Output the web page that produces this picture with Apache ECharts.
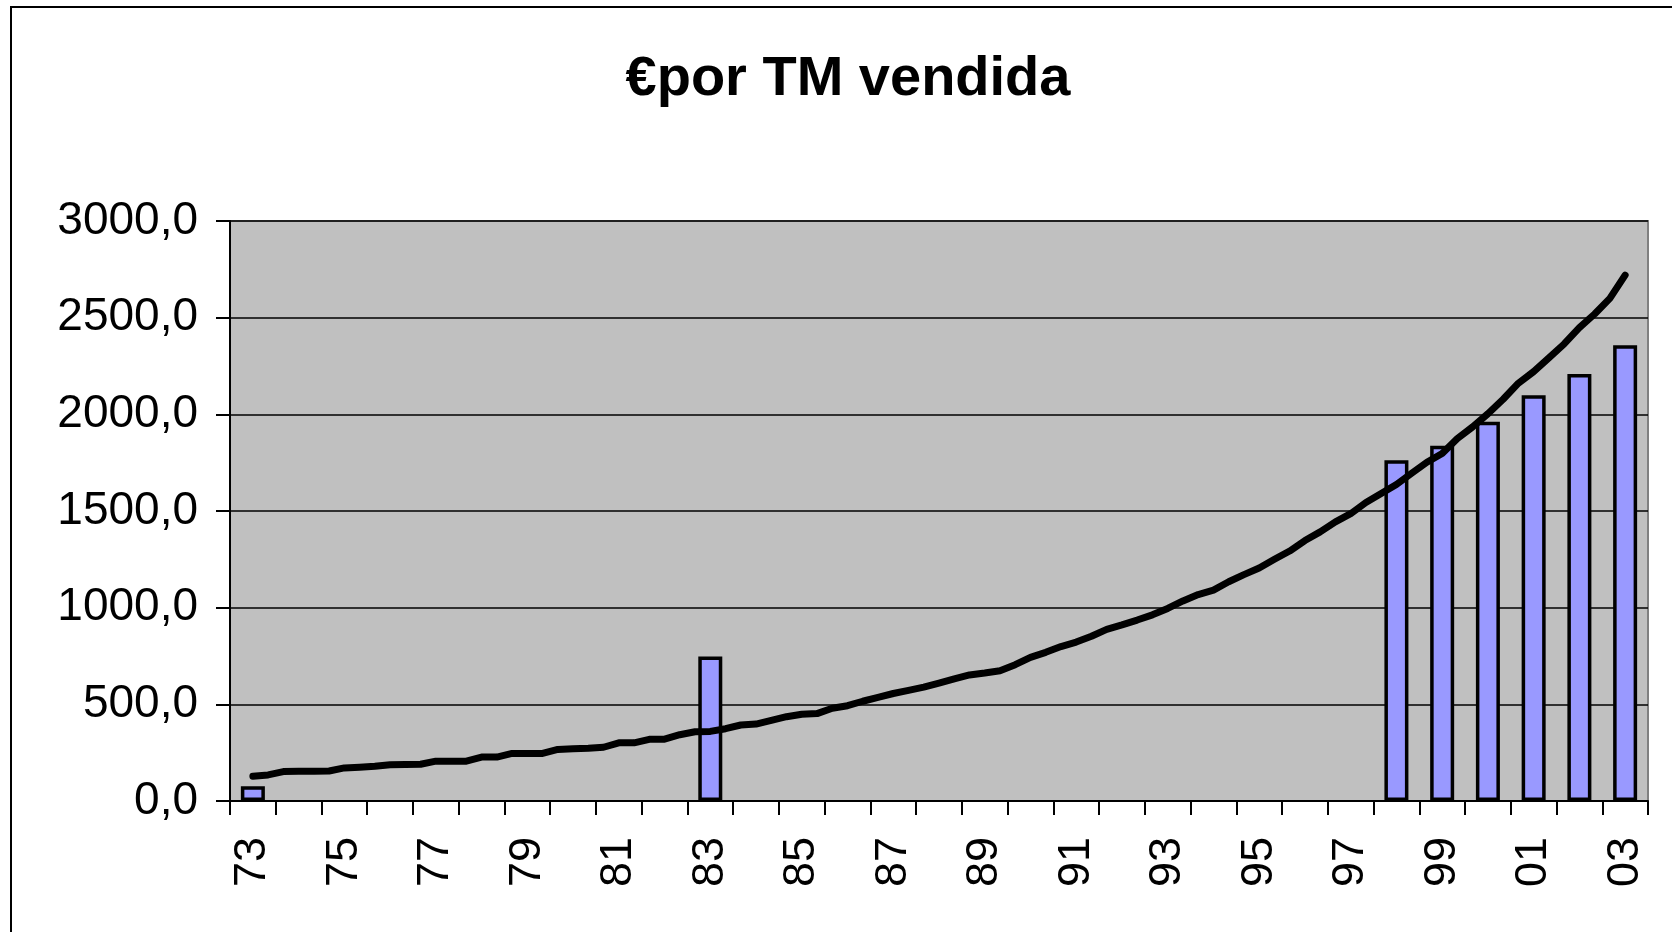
<!DOCTYPE html>
<html>
<head>
<meta charset="utf-8">
<title>€por TM vendida</title>
<script src="https://cdn.jsdelivr.net/npm/echarts@6/dist/echarts.min.js"></script>
<style>
  html, body { margin: 0; padding: 0; background: #fff; }
  #chart { width: 1672px; height: 932px; }
</style>
</head>
<body>
<div id="chart"></div>
<script>
// años (eje de categorías)
const years = ['73','74','75','76','77','78','79','80','81','82','83','84','85','86','87','88','89','90','91','92','93','94','95','96','97','98','99','00','01','02','03'];

// barras: solo algunos años tienen valor
const barValues = [76, null, null, null, null, null, null, null, null, null, 748, null, null, null, null, null, null, null, null, null, null, null, null, null, null, 1763, 1838, 1961, 2099, 2208, 2357];

// línea: un valor cada cuatro meses (3 por año), de 73 a 03
const lineValues = [
  128, 135, 152, 154, 154, 155, 171, 175, 180, 188,
  189, 190, 206, 206, 206, 227, 227, 246, 246, 246,
  267, 270, 273, 278, 301, 301, 319, 320, 343, 358,
  360, 374, 393, 398, 417, 436, 449, 452, 480, 493,
  516, 536, 556, 572, 589, 610, 632, 652, 662, 674,
  705, 743, 769, 799, 822, 852, 888, 911, 936, 963,
  996, 1035, 1068, 1091, 1134, 1171, 1205, 1250, 1293, 1347,
  1392, 1444, 1486, 1544, 1590, 1637, 1695, 1752, 1797, 1875,
  1935, 2003, 2078, 2161, 2221, 2292, 2364, 2448, 2519, 2600,
  2720
];

const yTicks = [0, 500, 1000, 1500, 2000, 2500, 3000];

const chart = echarts.init(document.getElementById('chart'));

const font = '"Liberation Sans", Arial, sans-serif';

chart.setOption({
  animation: false,
  backgroundColor: '#fff',
  title: {
    text: '€por TM vendida',
    left: 843,
    top: 47,
    textAlign: 'center',
    textStyle: { fontFamily: font, fontWeight: 'bold', fontSize: 56, color: '#000' }
  },
  graphic: [{
    type: 'rect',
    shape: { x: 11, y: 7, width: 1700, height: 1000 },
    style: { fill: 'none', stroke: '#000', lineWidth: 2 },
    silent: true
  }],
  grid: {
    left: 230, right: 24, top: 221, bottom: 131,
    show: true,
    backgroundColor: '#C0C0C0',
    borderColor: '#808080',
    borderWidth: 2
  },
  xAxis: [{
    type: 'category',
    data: years,
    boundaryGap: true,
    axisLine: { lineStyle: { color: '#000', width: 2 } },
    axisTick: { show: true, interval: 0, length: 14, lineStyle: { color: '#000', width: 2 } },
    axisLabel: {
      interval: 1,
      rotate: 90,
      margin: 36,
      fontFamily: font,
      fontSize: 45,
      color: '#000'
    },
    splitLine: { show: false }
  }, {
    type: 'value',
    min: -0.5,
    max: years.length - 0.5,
    show: false
  }],
  yAxis: {
    type: 'value',
    min: yTicks[0],
    max: yTicks[yTicks.length - 1],
    interval: 500,
    axisLine: { show: true, onZero: false, lineStyle: { color: '#000', width: 2 } },
    axisTick: { show: true, length: 14, lineStyle: { color: '#000', width: 2 } },
    axisLabel: {
      margin: 32,
      fontFamily: font,
      fontSize: 46,
      color: '#000',
      formatter: v => v.toFixed(1).replace('.', ',')
    },
    splitLine: { show: true, lineStyle: { color: '#000', width: 1.5 } }
  },
  series: [{
    type: 'bar',
    xAxisIndex: 0,
    data: barValues,
    barWidth: 24,
    itemStyle: { color: '#9999FF', borderColor: '#000', borderWidth: 3.5 }
  }, {
    type: 'line',
    xAxisIndex: 1,
    data: lineValues.map((v, i) => [i / 3, v]),
    showSymbol: false,
    lineStyle: { color: '#000', width: 7, cap: 'round', join: 'round' },
    z: 5
  }]
});
</script>
</body>
</html>
